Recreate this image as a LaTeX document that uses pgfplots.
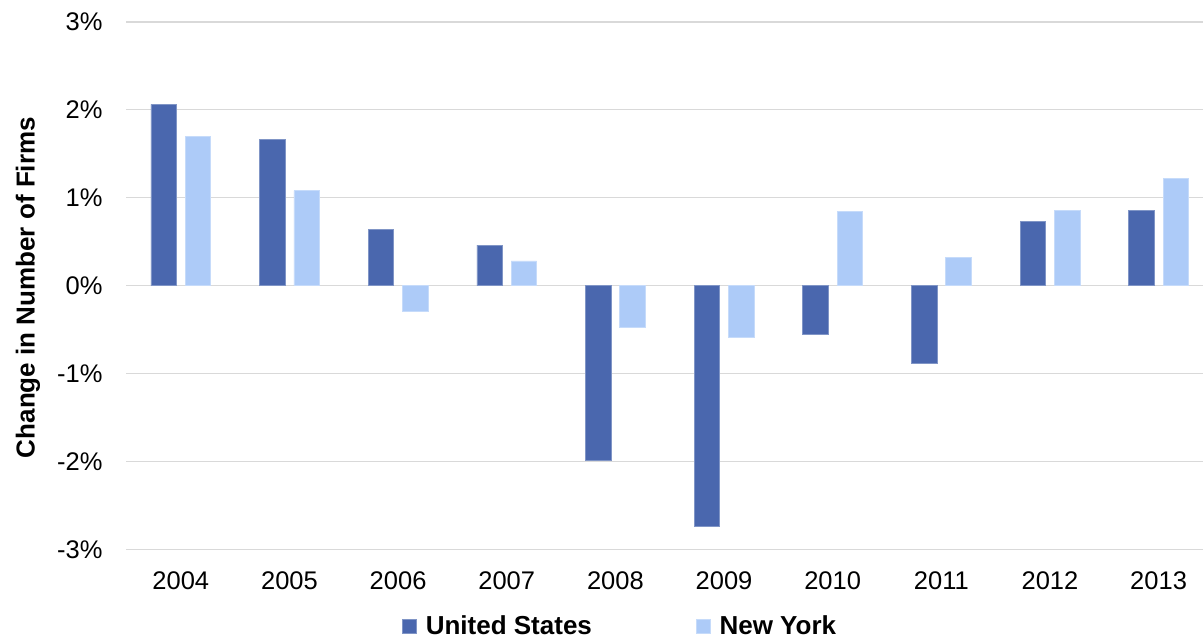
\documentclass[border=0pt]{standalone}
\usepackage{pgfplots}
\pgfplotsset{compat=1.18}
\usepackage{fontspec}
\setmainfont{Liberation Sans}

\definecolor{usblue}{HTML}{4A67AE}
\definecolor{nyblue}{HTML}{ADCBF8}
\definecolor{gridgray}{HTML}{D9D9D9}

\begin{document}
\begin{tikzpicture}
\useasboundingbox (-126.5pt,-90.7pt) rectangle (1076.5pt,549.3pt);
\begin{axis}[
    ybar=8.8pt,
    bar width=25.5pt,
    scale only axis,
    width=1076.5pt,
    height=527.6pt,
    xmin=-0.5, xmax=9.409,
    ymin=-3, ymax=3,
    xtick={0,...,9},
    xticklabels={2004,2005,2006,2007,2008,2009,2010,2011,2012,2013},
    ytick={-3,-2,-1,0,1,2,3},
    yticklabels={-3\%,-2\%,-1\%,0\%,1\%,2\%,3\%},
    axis line style={draw=none},
    major tick length=0pt,
    ymajorgrids,
    grid style={gridgray, line width=1.6pt},
    tick label style={font=\fontsize{25.5}{30}\selectfont},
    xticklabel style={anchor=north, inner sep=0pt, yshift=-21.7pt},
    yticklabel style={anchor=east, inner sep=0pt, xshift=-23.8pt},
    ylabel={Change in Number of Firms},
    every axis y label/.style={at={(axis description cs:0,0.496)}, xshift=-98.5pt,
        rotate=90, anchor=center, font=\fontsize{26}{30}\selectfont\bfseries},
    legend columns=2,
    legend style={at={(axis description cs:0,0)}, anchor=west,
        xshift=275.5pt, yshift=-77pt, draw=none, fill=none, inner sep=0pt,
        nodes={inner ysep=0pt},
        font=\fontsize{26}{30}\selectfont\bfseries,
        /tikz/every odd column/.append style={column sep=7pt},
        /tikz/every even column/.append style={column sep=102pt}},
    legend image code/.code={\fill[#1] (0pt,-7pt) rectangle (14pt,7pt);},
]
\addplot[fill=usblue, draw=usblue!70!white, line width=0.6pt] coordinates {
    (0,2.06) (1,1.66) (2,0.64) (3,0.46) (4,-1.99)
    (5,-2.74) (6,-0.56) (7,-0.88) (8,0.73) (9,0.85)};
\addplot[fill=nyblue, draw=nyblue!70!white, line width=0.6pt] coordinates {
    (0,1.70) (1,1.08) (2,-0.29) (3,0.28) (4,-0.47)
    (5,-0.59) (6,0.84) (7,0.32) (8,0.85) (9,1.22)};
\legend{United States, New York}
\end{axis}
\end{tikzpicture}
\end{document}
